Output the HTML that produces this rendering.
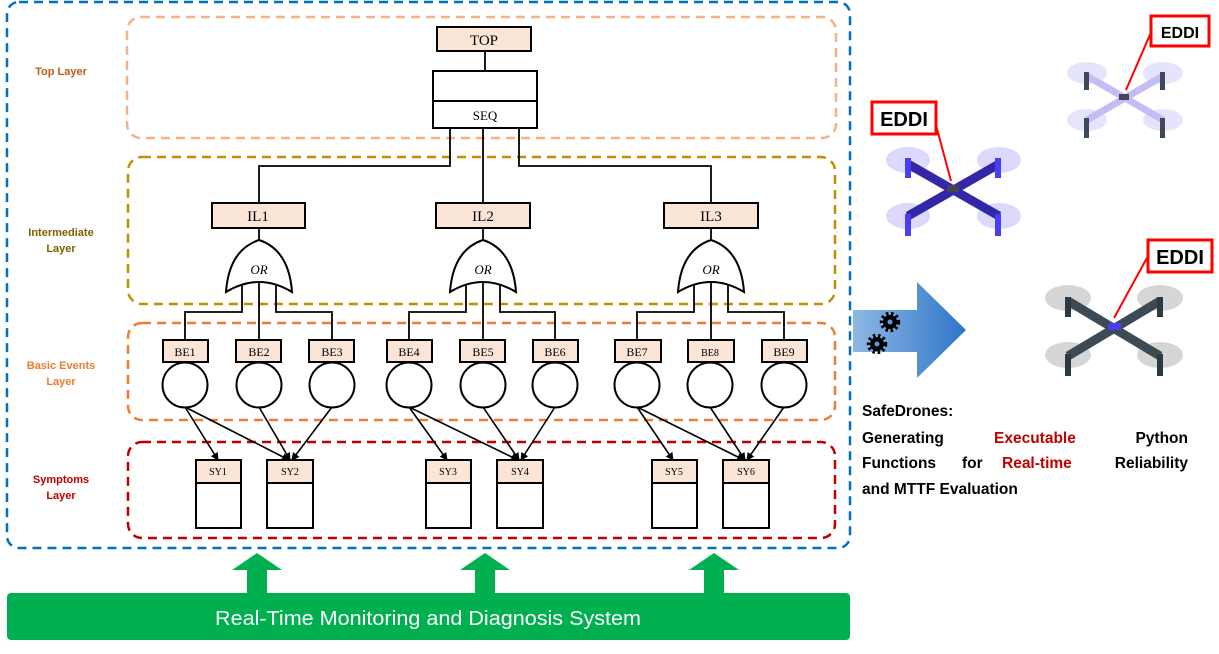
<!DOCTYPE html>
<html><head><meta charset="utf-8"><style>
body{margin:0;background:#fff;width:1219px;height:654px;overflow:hidden}
svg{display:block}
.t{font-family:"Liberation Serif",serif;fill:#000}
.l{font-family:"Liberation Sans",sans-serif;font-weight:bold;font-size:11px;text-anchor:middle}
.b{fill:#fbe5d6;stroke:#000;stroke-width:2}
.w{fill:#fff;stroke:#000;stroke-width:2}
.k{fill:none;stroke:#000;stroke-width:1.8}
</style></head><body>
<svg width="1219" height="654" viewBox="0 0 1219 654" xmlns="http://www.w3.org/2000/svg">
<defs>
<marker id="a" markerWidth="8" markerHeight="8" refX="7" refY="4" orient="auto" markerUnits="userSpaceOnUse"><path d="M0,0 L8,4 L0,8 Z" fill="#000"/></marker>
<linearGradient id="bg" x1="0" x2="1"><stop offset="0" stop-color="#8fb8e3"/><stop offset="1" stop-color="#2e75c8"/></linearGradient>
</defs>
<rect x="7" y="2" width="843" height="546" rx="12" fill="none" stroke="#0070c0" stroke-width="2.5" stroke-dasharray="9,6"/>
<rect x="127" y="17" width="709" height="121" rx="14" fill="none" stroke="#f4b183" stroke-width="2.5" stroke-dasharray="9,6"/>
<rect x="128" y="157" width="707" height="147" rx="14" fill="none" stroke="#bf9000" stroke-width="2.5" stroke-dasharray="9,6"/>
<rect x="128" y="323" width="707" height="97" rx="14" fill="none" stroke="#ed7d31" stroke-width="2.5" stroke-dasharray="9,6"/>
<rect x="128" y="442" width="707" height="96" rx="14" fill="none" stroke="#c00000" stroke-width="2.5" stroke-dasharray="9,6"/>
<text class="l" x="61" y="75" fill="#c55a11">Top Layer</text>
<text class="l" x="61" y="236" fill="#7f6000">Intermediate</text>
<text class="l" x="61" y="252" fill="#7f6000">Layer</text>
<text class="l" x="61" y="369" fill="#ed7d31">Basic Events</text>
<text class="l" x="61" y="385" fill="#ed7d31">Layer</text>
<text class="l" x="61" y="483" fill="#c00000">Symptoms</text>
<text class="l" x="61" y="499" fill="#c00000">Layer</text>
<path class="k" d="M485,51 V71 M450,128 V166 H259 V203 M483,128 V203 M519,128 V166 H711 V203"/>
<rect class="b" x="437" y="27" width="94" height="24"/>
<text class="t" x="484" y="45" font-size="15" text-anchor="middle">TOP</text>
<rect class="w" x="433" y="71" width="104" height="57"/>
<line x1="433" y1="101" x2="537" y2="101" stroke="#000" stroke-width="2"/>
<text class="t" x="485" y="120" font-size="13" text-anchor="middle">SEQ</text>
<rect class="b" x="212" y="203" width="93" height="25"/><text class="t" x="258" y="221" font-size="15" text-anchor="middle">IL1</text>
<rect class="b" x="436" y="203" width="94" height="25"/><text class="t" x="483" y="221" font-size="15" text-anchor="middle">IL2</text>
<rect class="b" x="664" y="203" width="94" height="25"/><text class="t" x="711" y="221" font-size="15" text-anchor="middle">IL3</text>
<path class="k" d="M259,228 V240 M483,228 V240 M711,228 V240"/>
<path class="k" d="M242,285 V312 H185 V340 M259,281 V340 M276,285 V312 H332 V340"/>
<path class="k" d="M466,285 V312 H409 V340 M483,281 V340 M500,285 V312 H555 V340"/>
<path class="k" d="M694,285 V312 H637 V340 M711,281 V340 M728,285 V312 H784 V340"/>
<path d="M226,292 Q229,250 259,240 Q289,250 292,292 Q259,272 226,292 Z" fill="#fff" stroke="#000" stroke-width="2"/>
<path d="M450,292 Q453,250 483,240 Q513,250 516,292 Q483,272 450,292 Z" fill="#fff" stroke="#000" stroke-width="2"/>
<path d="M678,292 Q681,250 711,240 Q741,250 744,292 Q711,272 678,292 Z" fill="#fff" stroke="#000" stroke-width="2"/>
<text class="t" x="259" y="274" font-size="13" font-style="italic" text-anchor="middle">OR</text>
<text class="t" x="483" y="274" font-size="13" font-style="italic" text-anchor="middle">OR</text>
<text class="t" x="711" y="274" font-size="13" font-style="italic" text-anchor="middle">OR</text>
<g font-size="12" text-anchor="middle">
<rect class="b" x="163" y="340" width="45" height="22"/><text class="t" x="185" y="356">BE1</text>
<rect class="b" x="236" y="340" width="45" height="22"/><text class="t" x="259" y="356">BE2</text>
<rect class="b" x="309" y="340" width="45" height="22"/><text class="t" x="332" y="356">BE3</text>
<rect class="b" x="387" y="340" width="45" height="22"/><text class="t" x="409" y="356">BE4</text>
<rect class="b" x="460" y="340" width="45" height="22"/><text class="t" x="483" y="356">BE5</text>
<rect class="b" x="533" y="340" width="45" height="22"/><text class="t" x="555" y="356">BE6</text>
<rect class="b" x="615" y="340" width="46" height="22"/><text class="t" x="637" y="356">BE7</text>
<rect class="b" x="688" y="340" width="46" height="22"/><text class="t" x="710" y="356" font-size="10">BE8</text>
<rect class="b" x="762" y="340" width="45" height="22"/><text class="t" x="784" y="356">BE9</text>
</g>
<g>
<circle class="w" cx="185" cy="385" r="22.5"/><circle class="w" cx="259" cy="385" r="22.5"/><circle class="w" cx="332" cy="385" r="22.5"/>
<circle class="w" cx="409" cy="385" r="22.5"/><circle class="w" cx="483" cy="385" r="22.5"/><circle class="w" cx="555" cy="385" r="22.5"/>
<circle class="w" cx="637" cy="385" r="22.5"/><circle class="w" cx="710" cy="385" r="22.5"/><circle class="w" cx="784" cy="385" r="22.5"/>
</g>
<g stroke="#000" stroke-width="1.6" marker-end="url(#a)">
<line x1="185" y1="407" x2="218" y2="460"/><line x1="185" y1="407" x2="289" y2="460"/><line x1="259" y1="407" x2="290" y2="460"/><line x1="332" y1="407" x2="292" y2="460"/>
<line x1="409" y1="407" x2="447" y2="460"/><line x1="409" y1="407" x2="518" y2="460"/><line x1="483" y1="407" x2="519" y2="460"/><line x1="555" y1="407" x2="521" y2="460"/>
<line x1="637" y1="407" x2="673" y2="460"/><line x1="637" y1="407" x2="744" y2="460"/><line x1="710" y1="407" x2="745" y2="460"/><line x1="784" y1="407" x2="747" y2="460"/>
</g>
<g font-size="10" text-anchor="middle">
<rect class="w" x="196" y="460" width="45" height="68"/><rect class="b" x="196" y="460" width="45" height="23"/><text class="t" x="218" y="475">SY1</text>
<rect class="w" x="267" y="460" width="46" height="68"/><rect class="b" x="267" y="460" width="46" height="23"/><text class="t" x="290" y="475">SY2</text>
<rect class="w" x="426" y="460" width="45" height="68"/><rect class="b" x="426" y="460" width="45" height="23"/><text class="t" x="448" y="475">SY3</text>
<rect class="w" x="497" y="460" width="46" height="68"/><rect class="b" x="497" y="460" width="46" height="23"/><text class="t" x="520" y="475">SY4</text>
<rect class="w" x="652" y="460" width="45" height="68"/><rect class="b" x="652" y="460" width="45" height="23"/><text class="t" x="674" y="475">SY5</text>
<rect class="w" x="723" y="460" width="46" height="68"/><rect class="b" x="723" y="460" width="46" height="23"/><text class="t" x="746" y="475">SY6</text>
</g>
<g fill="#00b050">
<path d="M232,570 L257,553 L282,570 L267,570 L267,594 L247,594 L247,570 Z"/>
<path d="M460,570 L485,553 L510,570 L495,570 L495,594 L475,594 L475,570 Z"/>
<path d="M689,570 L714,553 L739,570 L724,570 L724,594 L704,594 L704,570 Z"/>
<rect x="7" y="593" width="843" height="47" rx="4"/>
</g>
<text x="428" y="625" font-family="Liberation Sans,sans-serif" font-size="20" fill="#fff" text-anchor="middle" textLength="426" lengthAdjust="spacingAndGlyphs">Real-Time Monitoring and Diagnosis System</text>
<path d="M853,310 H917 V282 L966,330 L917,378 V352 H853 Z" fill="url(#bg)"/>
<g>
<circle cx="890" cy="322" r="7" fill="#000"/><circle cx="877" cy="344" r="7" fill="#000"/>
<g stroke="#000" stroke-width="3.5" stroke-dasharray="2.5,2.6" fill="none"><circle cx="890" cy="322" r="8.5"/><circle cx="877" cy="344" r="8.5"/></g>
<circle cx="890" cy="322" r="2.5" fill="#5b9bd5"/><circle cx="877" cy="344" r="2.5" fill="#5b9bd5"/>
</g>
<!-- drone 1 -->
<g>
<g fill="#d6d3fb" opacity="0.85"><ellipse cx="908" cy="160" rx="22" ry="13"/><ellipse cx="999" cy="160" rx="22" ry="13"/><ellipse cx="908" cy="216" rx="22" ry="13"/><ellipse cx="999" cy="216" rx="22" ry="13"/></g>
<g stroke="#3227a8" stroke-width="9"><line x1="908" y1="164" x2="999" y2="216"/><line x1="999" y1="164" x2="908" y2="216"/></g>
<rect x="947" y="185" width="12" height="7" fill="#445"/>
<g fill="#4a3ff0"><rect x="905" y="158" width="6" height="20"/><rect x="995" y="158" width="6" height="20"/><rect x="905" y="214" width="6" height="22"/><rect x="995" y="214" width="6" height="22"/></g>
</g>
<!-- drone 2 -->
<g>
<g fill="#e6e3fd"><ellipse cx="1087" cy="73" rx="20" ry="11"/><ellipse cx="1163" cy="73" rx="20" ry="11"/><ellipse cx="1087" cy="120" rx="20" ry="11"/><ellipse cx="1163" cy="120" rx="20" ry="11"/></g>
<g stroke="#c3bdf6" stroke-width="7"><line x1="1087" y1="76" x2="1163" y2="120"/><line x1="1163" y1="76" x2="1087" y2="120"/></g>
<rect x="1119" y="94" width="10" height="6" fill="#445"/>
<g fill="#3d4a5a"><rect x="1084" y="72" width="5" height="18"/><rect x="1160" y="72" width="5" height="18"/><rect x="1084" y="118" width="5" height="20"/><rect x="1160" y="118" width="5" height="20"/></g>
</g>
<!-- drone 3 -->
<g>
<g fill="#cfcfcf" opacity="0.85"><ellipse cx="1068" cy="298" rx="23" ry="13"/><ellipse cx="1160" cy="298" rx="23" ry="13"/><ellipse cx="1068" cy="355" rx="23" ry="13"/><ellipse cx="1160" cy="355" rx="23" ry="13"/></g>
<g stroke="#3b4a54" stroke-width="9"><line x1="1068" y1="301" x2="1160" y2="356"/><line x1="1160" y1="301" x2="1068" y2="356"/></g>
<rect x="1108" y="323" width="13" height="7" fill="#4a3ff0"/>
<g fill="#2e3a42"><rect x="1065" y="297" width="6" height="20"/><rect x="1157" y="297" width="6" height="20"/><rect x="1065" y="354" width="6" height="22"/><rect x="1157" y="354" width="6" height="22"/></g>
</g>
<g stroke="#f00" stroke-width="2">
<line x1="936" y1="125" x2="951" y2="181"/><line x1="1152" y1="30" x2="1126" y2="90"/><line x1="1148" y1="256" x2="1114" y2="318"/>
</g>
<g fill="#fff" stroke="#f00" stroke-width="3">
<rect x="872" y="102" width="64" height="32"/><rect x="1151" y="16" width="58" height="30"/><rect x="1148" y="240" width="64" height="32"/>
</g>
<g font-family="Liberation Sans,sans-serif" font-weight="bold" text-anchor="middle" fill="#000">
<text x="904" y="126" font-size="20">EDDI</text>
<text x="1180" y="38" font-size="16">EDDI</text>
<text x="1180" y="264" font-size="20">EDDI</text>
</g>
<g font-family="Liberation Sans,sans-serif" font-weight="bold" font-size="15.5" fill="#000">
<text x="862" y="416">SafeDrones:</text>
<text x="862" y="443">Generating</text><text x="994" y="443" fill="#c00000">Executable</text><text x="1188" y="443" text-anchor="end">Python</text>
<text x="862" y="468">Functions</text><text x="962" y="468">for</text><text x="1002" y="468" fill="#c00000">Real-time</text><text x="1188" y="468" text-anchor="end">Reliability</text>
<text x="862" y="494">and MTTF Evaluation</text>
</g>
</svg>
</body></html>
